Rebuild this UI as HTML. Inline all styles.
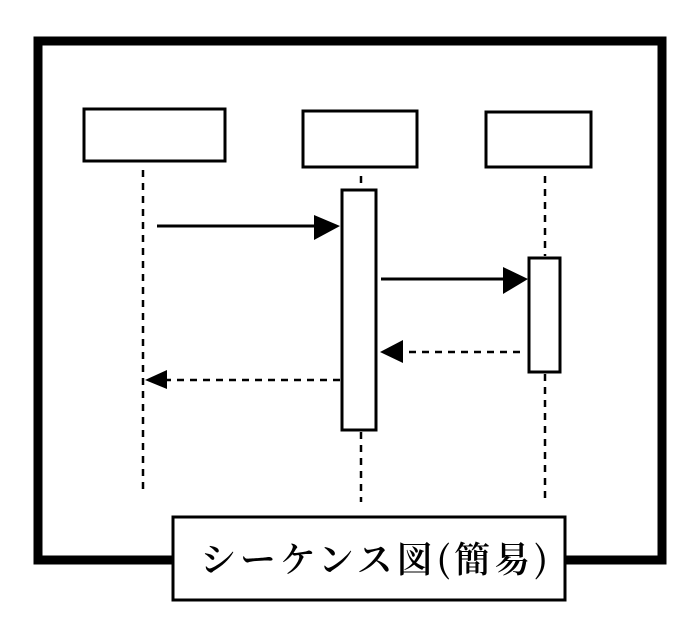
<!DOCTYPE html>
<html><head><meta charset="utf-8"><style>
html,body{margin:0;padding:0;background:#fff;width:700px;height:635px;overflow:hidden}
</style></head><body>
<svg width="700" height="635" viewBox="0 0 700 635" xmlns="http://www.w3.org/2000/svg">
<rect x="38" y="41" width="624" height="519" fill="none" stroke="#000" stroke-width="9"/>
<g fill="#fff" stroke="#000" stroke-width="3">
<rect x="84" y="109" width="141" height="52"/>
<rect x="303" y="111" width="114" height="56"/>
<rect x="486" y="112" width="105" height="55"/>
</g>
<g stroke="#000" stroke-width="2.5" stroke-dasharray="7,6" fill="none">
<line x1="143" y1="170" x2="143" y2="494"/>
<line x1="361" y1="176" x2="361" y2="188"/>
<line x1="361" y1="432" x2="361" y2="502"/>
<line x1="545" y1="176" x2="545" y2="256"/>
<line x1="545" y1="374" x2="545" y2="502"/>
<line x1="520" y1="352" x2="400" y2="352"/>
<line x1="340" y1="380" x2="165" y2="380"/>
</g>
<g fill="#fff" stroke="#000" stroke-width="3">
<rect x="342" y="190" width="34" height="240"/>
<rect x="529" y="258" width="31" height="114"/>
</g>
<g stroke="#000" stroke-width="3">
<line x1="157" y1="226" x2="318" y2="226"/>
<line x1="381" y1="279" x2="508" y2="279"/>
</g>
<g fill="#000">
<polygon points="314,215 340,226 314,240"/>
<polygon points="503,267 528,279 503,294"/>
<polygon points="403,340 380,352 403,363"/>
<polygon points="167,370 145,380 167,389"/>
</g>
<rect x="173" y="517" width="392" height="83" fill="#fff" stroke="#000" stroke-width="3"/>
<text x="200" y="572" font-family="'Noto Serif CJK SC','Liberation Serif',serif" font-size="36" font-weight="600" textLength="348" lengthAdjust="spacing" fill="#000">シーケンス図(簡易)</text>
</svg>
</body></html>
